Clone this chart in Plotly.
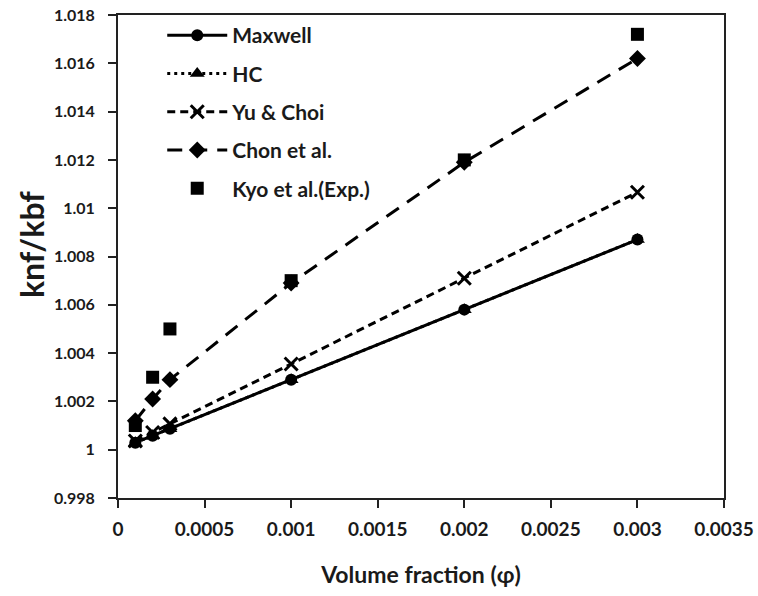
import plotly.graph_objects as go

phi = [0.0001, 0.0002, 0.0003, 0.001, 0.002, 0.003]
maxwell = [1.00029, 1.00058, 1.00087, 1.0029, 1.0058, 1.0087]
hc = [1.00029, 1.00058, 1.00087, 1.0029, 1.0058, 1.0087]
yu_choi = [1.00036, 1.00071, 1.00107, 1.00355, 1.0071, 1.01066]
chon = [1.0012, 1.0021, 1.0029, 1.0069, 1.0119, 1.0162]
kyo = [1.001, 1.003, 1.005, 1.007, 1.012, 1.0172]

y_ticks = [0.998, 1.0, 1.002, 1.004, 1.006, 1.008, 1.01, 1.012, 1.014, 1.016, 1.018]
y_labels = ["0.998", "1", "1.002", "1.004", "1.006", "1.008", "1.01", "1.012", "1.014", "1.016", "1.018"]
x_ticks = [0, 0.0005, 0.001, 0.0015, 0.002, 0.0025, 0.003, 0.0035]
x_labels = ["0", "0.0005", "0.001", "0.0015", "0.002", "0.0025", "0.003", "0.0035"]

FONT = "Lato"
BLACK = "#000000"
TXT = "#1a1a1a"
LW = 3

fig = go.Figure()
fig.add_trace(go.Scatter(x=phi, y=hc, name="HC", mode="lines+markers", legendrank=2,
                         line=dict(color=BLACK, width=LW, dash="3px,4px"),
                         marker=dict(symbol="triangle-up", size=13, color=BLACK)))
fig.add_trace(go.Scatter(x=phi, y=maxwell, name="Maxwell", mode="lines+markers", legendrank=1,
                         line=dict(color=BLACK, width=LW),
                         marker=dict(symbol="circle", size=12, color=BLACK)))
fig.add_trace(go.Scatter(x=phi, y=yu_choi, name="Yu & Choi", mode="lines+markers", legendrank=3,
                         line=dict(color=BLACK, width=LW, dash="8px,5px"),
                         marker=dict(symbol="x-thin", size=13, color=BLACK,
                                     line=dict(color=BLACK, width=3))))
fig.add_trace(go.Scatter(x=phi, y=chon, name="Chon et al.", mode="lines+markers", legendrank=4,
                         line=dict(color=BLACK, width=LW, dash="15px,10px"),
                         marker=dict(symbol="diamond", size=13, color=BLACK)))
fig.add_trace(go.Scatter(x=phi, y=kyo, name="Kyo et al.(Exp.)", mode="markers", legendrank=5,
                         marker=dict(symbol="square", size=13, color=BLACK)))

axis_common = dict(showline=True, linecolor="#222222", linewidth=2, mirror=True,
                   ticks="outside", tickcolor="#222222", tickwidth=2, ticklen=8,
                   showgrid=False, zeroline=False)

fig.update_xaxes(range=[0, 0.0035], tickvals=x_ticks, ticktext=x_labels,
                 ticklabelstandoff=5,
                 tickfont=dict(family=FONT, size=19, color=TXT, weight="bold"),
                 title=dict(text="Volume fraction (φ)", standoff=28,
                            font=dict(family=FONT, size=23, color=TXT, weight="bold")),
                 **axis_common)
fig.update_yaxes(range=[0.998, 1.018], tickvals=y_ticks, ticktext=y_labels,
                 ticklabelstandoff=10,
                 tickfont=dict(family=FONT, size=16, color=TXT, weight="bold"),
                 **axis_common)

fig.add_annotation(text="knf/kbf", textangle=-90, showarrow=False,
                   xref="paper", yref="paper", x=(31 - 118) / 606, y=(498 - 245) / 483,
                   xanchor="center", yanchor="middle",
                   font=dict(family=FONT, size=32, color=TXT, weight="bold"))

fig.update_layout(
    width=758, height=596,
    margin=dict(l=118, r=34, t=15, b=98, autoexpand=False),
    plot_bgcolor="white", paper_bgcolor="white",
    legend=dict(x=0.073, y=1.0, xanchor="left", yanchor="top",
                bgcolor="rgba(255,255,255,0)", itemwidth=60,
                tracegroupgap=8, traceorder="grouped",
                font=dict(family=FONT, size=21, color=TXT, weight="bold")),
)
for i, tr in enumerate(fig.data):
    tr.legendgroup = "g%d" % i

fig.write_html("out.html", config={"displayModeBar": False},
               post_script="document.body.style.margin='0px';document.body.style.padding='0px';")
